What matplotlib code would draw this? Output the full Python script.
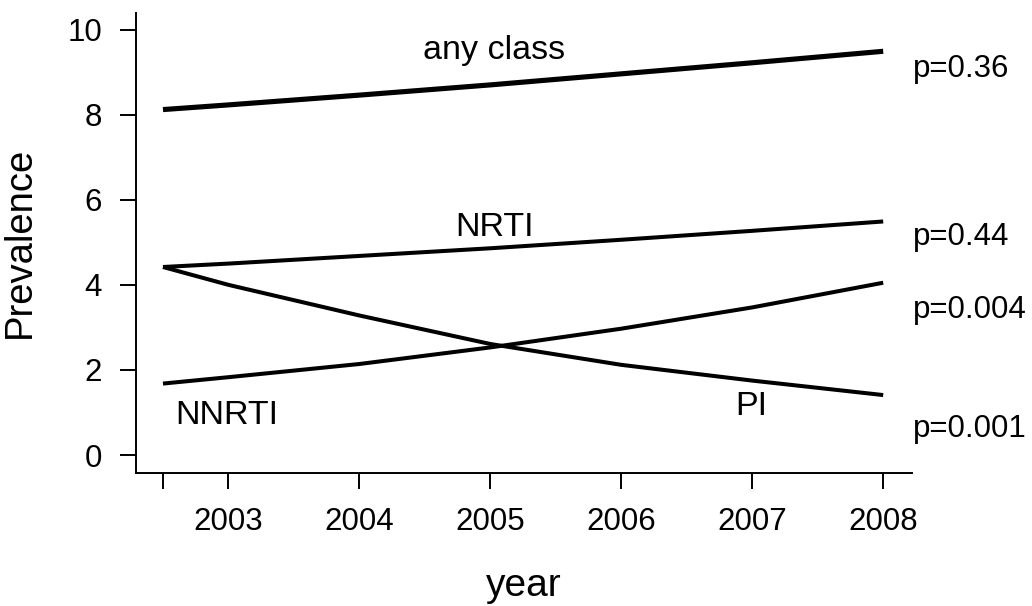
import matplotlib
matplotlib.use("Agg")
import matplotlib.pyplot as plt

plt.rcParams['font.family'] = ['Liberation Sans', 'DejaVu Sans']

years = [2002.5, 2003, 2004, 2005, 2006, 2007, 2008]
any_class = [8.12, 8.23, 8.46, 8.70, 8.96, 9.22, 9.49]
nrti = [4.42, 4.50, 4.68, 4.86, 5.06, 5.27, 5.49]
pi = [4.42, 4.00, 3.28, 2.61, 2.12, 1.75, 1.41]
nnrti = [1.68, 1.83, 2.14, 2.53, 2.97, 3.47, 4.05]

xticks = [2002.5, 2003, 2004, 2005, 2006, 2007, 2008]
xticklabels = ['', '2003', '2004', '2005', '2006', '2007', '2008']
yticks = [0, 2, 4, 6, 8, 10]

series_labels = [("any class", 2005.03, 9.30),
                 ("NRTI", 2005.03, 5.14),
                 ("NNRTI", 2002.99, 0.74),
                 ("PI", 2006.99, 0.94)]
p_labels = [("p=0.36", 8.88), ("p=0.44", 4.93), ("p=0.004", 3.21), ("p=0.001", 0.43)]

W, H = 1032, 606
fig = plt.figure(figsize=(W / 100, H / 100), dpi=100)
ax = fig.add_axes([136 / W, (H - 472.7) / H, (912 - 136) / W, (472.7 - 13) / H])

ax.plot(years, any_class, color='black', lw=3.7, solid_capstyle='butt', solid_joinstyle='round')
ax.plot(years, nrti, color='black', lw=2.9, solid_capstyle='butt', solid_joinstyle='round')
ax.plot(years, pi, color='black', lw=2.9, solid_capstyle='butt', solid_joinstyle='round')
ax.plot(years, nnrti, color='black', lw=2.9, solid_capstyle='butt', solid_joinstyle='round')

ax.set_xlim(2002.294, 2008.22)
ax.set_ylim(-0.415, 10.39)

ax.spines['top'].set_visible(False)
ax.spines['right'].set_visible(False)
for s in ['left', 'bottom']:
    ax.spines[s].set_linewidth(1.4)

ax.set_xticks(xticks)
ax.set_xticklabels(xticklabels)
ax.set_yticks(yticks)
ax.tick_params(axis='both', length=11.5, width=1.4, labelsize=22.5, pad=13, color='black')

for txt, x, y in series_labels:
    ax.text(x, y, txt, ha='center', va='baseline', fontsize=24.5)
for txt, y in p_labels:
    ax.text(2008.23, y, txt, ha='left', va='baseline', fontsize=22.5, clip_on=False)

fig.text(524 / W, (H - 596) / H, 'year', ha='center', va='baseline', fontsize=28)
fig.text(20 / W, (H - 242.5) / H, 'Prevalence', ha='center', va='center', rotation=90, fontsize=27.5)

fig.savefig('out.png', dpi=100)
